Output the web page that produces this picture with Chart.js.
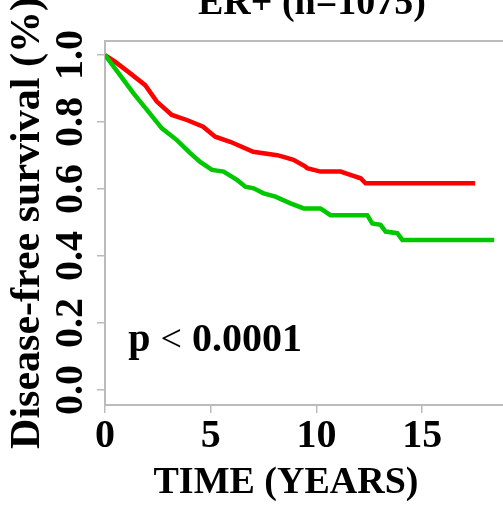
<!DOCTYPE html>
<html lang="en">
<head>
  <meta charset="UTF-8" />
  <title>ER+ disease-free survival</title>
  <style>
    html, body {
      margin: 0;
      padding: 0;
      background: #fff;
      overflow: hidden;
    }
    canvas {
      display: block;
    }
  </style>
</head>
<body>
  <canvas id="kmChart" width="503" height="506"></canvas>

  <script src="https://cdn.jsdelivr.net/npm/chart.js"></script>
  <script>
    // survival curves (years, fraction)
    const redTime = [0, 0.47, 1.18, 1.90, 2.45, 3.16, 3.87, 4.64, 5.21, 5.92, 7.01, 8.14, 8.44, 8.91, 9.48, 9.56, 10.19, 11.14, 11.6, 12.09, 12.32, 17.5];
    const redSurv = [1.0, 0.98, 0.946, 0.91, 0.861, 0.821, 0.806, 0.786, 0.756, 0.741, 0.711, 0.701, 0.696, 0.687, 0.667, 0.662, 0.652, 0.652, 0.642, 0.632, 0.617, 0.617];
    const greenTime = [0, 0.71, 1.34, 2.05, 2.69, 3.40, 4.03, 4.50, 5.06, 5.61, 6.24, 6.64, 7.03, 7.50, 8.06, 8.77, 9.40, 10.19, 10.66, 12.40, 12.64, 13.03, 13.27, 13.82, 14.06, 18.4];
    const greenSurv = [1.0, 0.94, 0.886, 0.831, 0.781, 0.746, 0.707, 0.681, 0.657, 0.652, 0.627, 0.607, 0.602, 0.587, 0.577, 0.557, 0.542, 0.542, 0.522, 0.522, 0.497, 0.493, 0.473, 0.468, 0.448, 0.448];

    const xTicks = [0, 5, 10, 15];
    const xTickLabels = ['0', '5', '10', '15'];
    const yTicks = [0, 0.2, 0.4, 0.6, 0.8, 1.0];
    const yTickLabels = ['0.0', '0.2', '0.4', '0.6', '0.8', '1.0'];

    const chartTitle = 'ER+ (n=1075)';
    const xTitle = 'TIME (YEARS)';
    const yTitle = 'Disease-free survival (%)';
    const pParts = ['p ', '<', ' 0.0001'];
    const pAt = [1.1, 0.116];

    const serif = "'Liberation Serif', 'Times New Roman', serif";
    const grey = '#bbbbbb';

    function toPoints(xs, ys) {
      return xs.map((x, i) => ({ x: x, y: ys[i] }));
    }

    // frame top line + the free text (title, x title, p value)
    const extras = {
      id: 'extras',
      afterDraw(chart) {
        const ctx = chart.ctx;
        const a = chart.chartArea;
        ctx.save();
        ctx.strokeStyle = grey;
        ctx.lineWidth = 2;
        ctx.beginPath();
        ctx.moveTo(a.left, a.top);
        ctx.lineTo(a.right, a.top);
        ctx.stroke();

        ctx.fillStyle = '#000';
        ctx.textBaseline = 'alphabetic';
        ctx.textAlign = 'center';
        ctx.font = 'bold 38px ' + serif;
        ctx.fillText(chartTitle, 312, 14);
        ctx.fillText(xTitle, 286, 493);

        // p value: the "<" sign is thin in the original
        ctx.textAlign = 'left';
        let px = chart.scales.x.getPixelForValue(pAt[0]);
        const py = chart.scales.y.getPixelForValue(pAt[1]);
        pParts.forEach((part, i) => {
          ctx.font = (i === 1 ? '38px ' : 'bold 40px ') + serif;
          ctx.fillText(part, px, py);
          px += ctx.measureText(part).width;
        });
        ctx.restore();
      }
    };

    const ctx = document.getElementById('kmChart').getContext('2d');
    new Chart(ctx, {
      type: 'line',
      data: {
        datasets: [
          {
            label: 'green',
            data: toPoints(greenTime, greenSurv),
            borderColor: '#00c800',
            borderWidth: 4.5,
            pointRadius: 0,
            tension: 0,
            fill: false
          },
          {
            label: 'red',
            data: toPoints(redTime, redSurv),
            borderColor: '#ff0000',
            borderWidth: 4.5,
            pointRadius: 0,
            tension: 0,
            fill: false
          }
        ]
      },
      options: {
        responsive: false,
        animation: false,
        devicePixelRatio: 1,
        layout: { padding: { top: 41, left: 0, right: 0, bottom: 0 } },
        plugins: {
          legend: { display: false },
          tooltip: { enabled: false }
        },
        scales: {
          x: {
            type: 'linear',
            min: 0,
            max: 18.82,
            afterBuildTicks: (scale) => { scale.ticks = xTicks.map(v => ({ value: v })); },
            afterFit: (scale) => { scale.height = 101; },
            border: { display: true, color: grey, width: 2 },
            grid: { drawOnChartArea: false, drawTicks: true, tickLength: 8, color: grey, lineWidth: 1.5 },
            ticks: {
              autoSkip: false,
              maxRotation: 0,
              padding: 0,
              color: '#000',
              font: { family: serif, size: 40, weight: 'bold' },
              callback: (v, i) => xTickLabels[i]
            }
          },
          y: {
            type: 'linear',
            min: -0.0448,
            max: 1.0418,
            afterBuildTicks: (scale) => { scale.ticks = yTicks.map(v => ({ value: v })); },
            afterFit: (scale) => { scale.width = 105; },
            border: { display: true, color: grey, width: 2 },
            grid: { drawOnChartArea: false, drawTicks: true, tickLength: 8, color: grey, lineWidth: 1.5 },
            title: {
              display: true,
              text: yTitle,
              color: '#000',
              font: { family: serif, size: 42, weight: 'bold' },
              padding: { top: 2.6, bottom: 0 }
            },
            ticks: {
              autoSkip: false,
              minRotation: 90,
              maxRotation: 90,
              crossAlign: 'center',
              padding: 0.5,
              color: '#000',
              font: { family: serif, size: 40, weight: 'bold' },
              callback: (v, i) => yTickLabels[i]
            }
          }
        }
      },
      plugins: [extras]
    });
  </script>
</body>
</html>
